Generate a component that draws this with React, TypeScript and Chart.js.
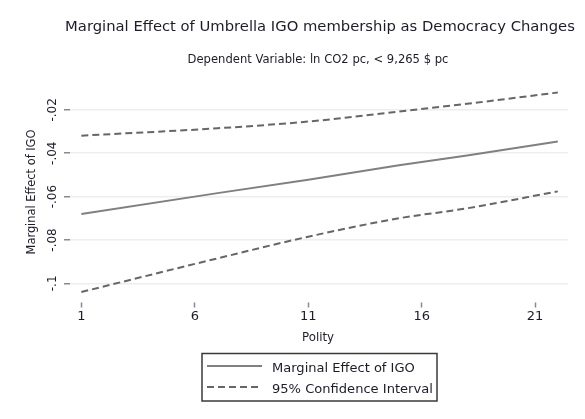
import React, { useEffect, useRef } from "react";
import { Chart, registerables } from "chart.js";

Chart.register(...registerables);

const polity = [1, 7, 11, 15, 18, 22];
const marginalEffect = [-0.068, -0.0584, -0.0522, -0.0456, -0.0411, -0.0346];
const upperCI = [-0.0319, -0.0285, -0.0254, -0.0208, -0.0172, -0.012];
const lowerCI = [-0.104, -0.0885, -0.0785, -0.07, -0.0654, -0.0576];

const xTicks = [1, 6, 11, 16, 21];
const yTicks = [-0.1, -0.08, -0.06, -0.04, -0.02];
const yTickLabels = ["-.1", "-.08", "-.06", "-.04", "-.02"];

const titleText = "Marginal Effect of Umbrella IGO membership as Democracy Changes";
const subtitleText = "Dependent Variable: ln CO2 pc, < 9,265 $ pc";
const xTitle = "Polity";
const yTitle = "Marginal Effect of IGO";
const legendLabels = ["Marginal Effect of IGO", "95% Confidence Interval"];

const FONT = "'DejaVu Sans', 'Liberation Sans', sans-serif";
const TEXT = "#1c1c2a";

function fitFont(ctx: CanvasRenderingContext2D, text: string, target: number, start: number) {
  let size = start;
  for (let i = 0; i < 40; i++) {
    ctx.font = `${size}px ${FONT}`;
    const w = ctx.measureText(text).width;
    if (Math.abs(w - target) < 0.5) break;
    size = size * (target / w);
  }
  ctx.font = `${size}px ${FONT}`;
  return size;
}

const textPlugin = {
  id: "stataText",
  afterDraw(chart: any) {
    const ctx: CanvasRenderingContext2D = chart.ctx;
    const xs = chart.scales.x;
    const ys = chart.scales.y;
    ctx.save();
    ctx.fillStyle = TEXT;
    ctx.textAlign = "center";
    ctx.textBaseline = "middle";

    fitFont(ctx, titleText, 510, 16);
    ctx.fillText(titleText, 320, 27);
    fitFont(ctx, subtitleText, 261, 11);
    ctx.fillText(subtitleText, 318, 60);

    // x tick labels
    ctx.font = `13px ${FONT}`;
    xTicks.forEach((v) => {
      ctx.fillText(String(v), xs.getPixelForValue(v), 317);
    });
    // x title
    fitFont(ctx, xTitle, 32, 11);
    ctx.fillText(xTitle, 318, 338);

    // y tick labels (rotated)
    yTicks.forEach((v, i) => {
      const py = ys.getPixelForValue(v);
      ctx.save();
      ctx.translate(53, py);
      ctx.rotate(-Math.PI / 2);
      ctx.font = `12px ${FONT}`;
      ctx.fillText(yTickLabels[i], 0, 0);
      ctx.restore();
    });
    // y title
    ctx.save();
    ctx.translate(32, 192);
    ctx.rotate(-Math.PI / 2);
    fitFont(ctx, yTitle, 125, 11);
    ctx.fillText(yTitle, 0, 0);
    ctx.restore();

    // legend
    ctx.strokeStyle = "#3a3a3a";
    ctx.lineWidth = 1.5;
    ctx.strokeRect(202, 353.5, 235, 47.5);
    const ds = chart.data.datasets;
    const rows = [
      { y: 366, ds: ds[0] },
      { y: 387, ds: ds[1] },
    ];
    rows.forEach((r, i) => {
      ctx.beginPath();
      ctx.strokeStyle = r.ds.borderColor;
      ctx.lineWidth = r.ds.borderWidth;
      ctx.setLineDash(r.ds.borderDash || []);
      ctx.moveTo(207, r.y);
      ctx.lineTo(262, r.y);
      ctx.stroke();
      ctx.setLineDash([]);
      ctx.textAlign = "left";
      ctx.fillStyle = TEXT;
      const target = i === 0 ? 143 : 161;
      fitFont(ctx, legendLabels[i], target, 12);
      ctx.fillText(legendLabels[i], 272, r.y + 3);
    });
    ctx.restore();
  },
};

export default function App() {
  const ref = useRef<HTMLCanvasElement | null>(null);
  useEffect(() => {
    if (!ref.current) return;
    const chart = new Chart(ref.current, {
      type: "line",
      data: {
        datasets: [
          {
            label: legendLabels[0],
            data: polity.map((x, i) => ({ x, y: marginalEffect[i] })),
            borderColor: "#808080",
            borderWidth: 2,
            pointRadius: 0,
            fill: false,
          },
          {
            label: legendLabels[1],
            data: polity.map((x, i) => ({ x, y: upperCI[i] })),
            borderColor: "#666666",
            borderWidth: 2,
            borderDash: [7, 4],
            pointRadius: 0,
            cubicInterpolationMode: "monotone",
            fill: false,
          },
          {
            label: "lower",
            data: polity.map((x, i) => ({ x, y: lowerCI[i] })),
            borderColor: "#666666",
            borderWidth: 2,
            borderDash: [7, 4],
            pointRadius: 0,
            cubicInterpolationMode: "monotone",
            fill: false,
          },
        ],
      },
      options: {
        animation: false,
        responsive: false,
        layout: { padding: { left: 70, right: 17, top: 86, bottom: 120.5 } },
        plugins: {
          legend: { display: false },
          title: { display: false },
          tooltip: { enabled: false },
        },
        scales: {
          x: {
            type: "linear",
            min: 0.5,
            max: 22.45,
            afterBuildTicks: (s: any) => {
              s.ticks = xTicks.map((v) => ({ value: v }));
            },
            afterFit: (s: any) => {
              s.height = 0;
            },
            ticks: { display: false },
            border: { display: false },
            grid: {
              drawOnChartArea: false,
              drawTicks: true,
              tickLength: 9,
              tickColor: "#8a8a8a",
              tickWidth: 1.5,
              tickBorderDash: [0, 3.5, 5, 100],
            },
          },
          y: {
            type: "linear",
            min: -0.107,
            max: -0.009,
            afterBuildTicks: (s: any) => {
              s.ticks = yTicks.map((v) => ({ value: v }));
            },
            afterFit: (s: any) => {
              s.width = 0;
            },
            ticks: { display: false },
            border: { display: false },
            grid: {
              color: "#eeeeee",
              lineWidth: 1.5,
              drawTicks: true,
              tickLength: 6,
              tickColor: "#8a8a8a",
              tickWidth: 1.5,
            },
          },
        },
      },
      plugins: [textPlugin],
    } as any);
    return () => chart.destroy();
  }, []);
  return (
    <div style={{ position: "fixed", left: 0, top: 0, width: 585, height: 419, background: "#fff" }}>
      <canvas ref={ref} width={585} height={419} />
    </div>
  );
}
